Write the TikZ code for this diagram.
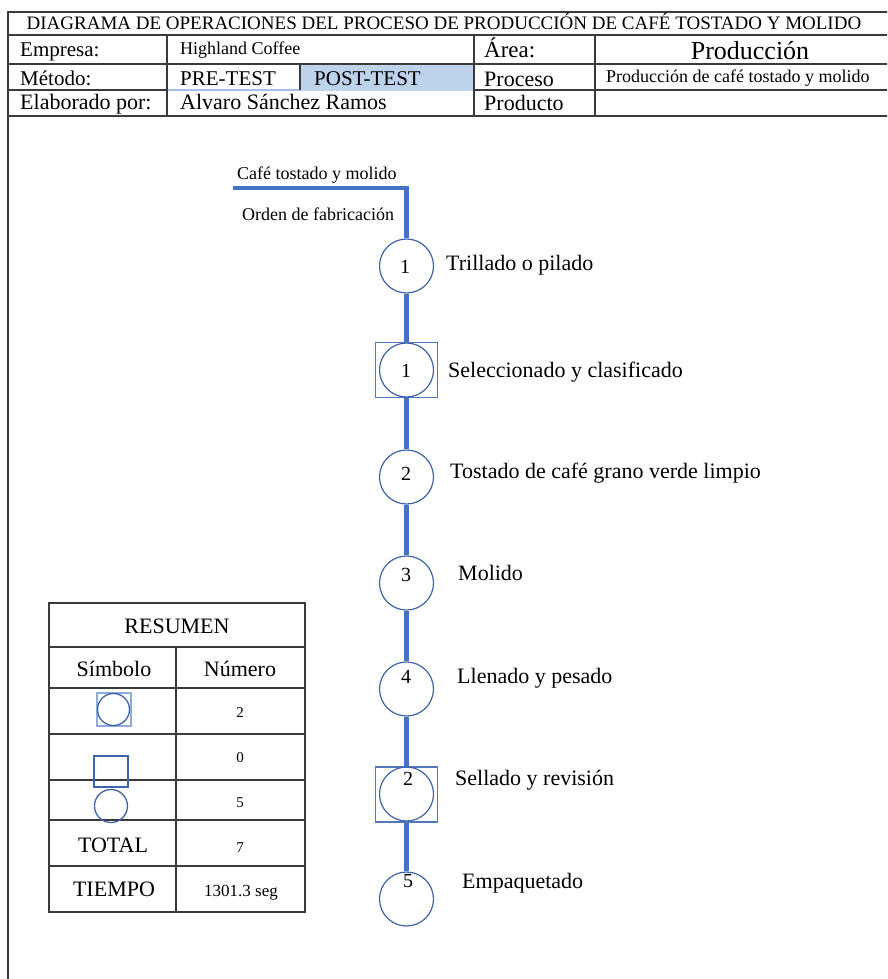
\documentclass[tikz,border=0pt]{standalone}
\usepackage{fontspec}
\setmainfont{Liberation Serif}
\definecolor{flowblue}{HTML}{4472C4}
\definecolor{shapeblue}{HTML}{3F63A8}
\definecolor{boxblue}{HTML}{5278BC}
\definecolor{paleblue}{HTML}{8FAADC}
\definecolor{cellblue}{HTML}{BDD3EC}
\definecolor{gridgray}{HTML}{3A3A3A}
\newcommand\setfs[1]{\fontsize{#1}{#1}\selectfont}
\tikzset{
  tbl/.style={draw=gridgray, line width=1.3pt},
  flow/.style={draw=flowblue, line width=4.3pt, line join=miter},
  opc/.style={circle, draw=shapeblue, line width=1.2pt, minimum size=54pt, inner sep=0pt},
  insp/.style={rectangle, draw=boxblue, line width=1.1pt, minimum width=62pt, minimum height=55pt, inner sep=0pt},
  txt/.style={inner sep=0pt, anchor=base west},
  ctxt/.style={inner sep=0pt, anchor=base},
  num/.style={inner sep=0pt, anchor=base, font=\setfs{20}},
  lbl/.style={txt, font=\setfs{22}},
}
\begin{document}
\begin{tikzpicture}[x=1pt, y=-1pt]
\useasboundingbox (0,0) rectangle (887,979);
\clip (0,0) rectangle (887,979);

% ---------- header table ----------
\fill[cellblue] (300,64) rectangle (474,91);
\draw[tbl] (8,979) -- (8,12) -- (890,12);
\draw[tbl] (8,35) -- (890,35);
\draw[tbl] (8,64) -- (890,64);
\draw[tbl] (8,90) -- (167,90);
\draw[draw=cellblue!80!flowblue, line width=1.3pt] (167,90) -- (300,90);
\draw[tbl] (474,90) -- (890,90);
\draw[tbl] (8,116) -- (890,116);
\draw[tbl] (167,35) -- (167,116);
\draw[tbl] (300,64) -- (300,90);
\draw[tbl] (474,35) -- (474,116);
\draw[tbl] (595,35) -- (595,116);

\node[ctxt, font=\setfs{19}] (title) at (444,30) {DIAGRAMA DE OPERACIONES DEL PROCESO DE PRODUCCIÓN DE CAFÉ TOSTADO Y MOLIDO};
\node[txt, font=\setfs{21}] (empL) at (20,57) {Empresa:};
\node[txt, font=\setfs{18}] (empV) at (180,55) {Highland Coffee};
\node[txt, font=\setfs{23}] (areaL) at (484,58) {Área:};
\node[ctxt, font=\setfs{26}] (areaV) at (750,60) {Producción};
\node[txt, font=\setfs{21}] (metL) at (20,86) {Método:};
\node[txt, font=\setfs{21}] (pre) at (180,86) {PRE-TEST};
\node[txt, font=\setfs{21}] (post) at (314,86) {POST-TEST};
\node[txt, font=\setfs{22}] (procL) at (484,87) {Proceso};
\node[txt, font=\setfs{18}] (procV) at (606,83) {Producción de café tostado y molido};
\node[txt, font=\setfs{22}] (elabL) at (20,110) {Elaborado por:};
\node[txt, font=\setfs{22}] (elabV) at (180,110) {Alvaro Sánchez Ramos};
\node[txt, font=\setfs{22}] (prodL) at (484,111) {Producto};

% ---------- operations chart ----------
\coordinate (inL) at (233,188);
\node[opc] (c1) at (406.5,266) {};
\node[insp] (s1) at (406.5,370) {};
\node[opc] (s1c) at (406.5,370) {};
\node[opc] (c2) at (406.5,477) {};
\node[opc] (c3) at (406.5,583) {};
\node[opc] (c4) at (406.5,689) {};
\node[insp] (s2) at (406.5,794.5) {};
\node[opc] (s2c) at (406.5,794) {};
\node[opc] (c5) at (406.5,899) {};

\draw[flow] (inL) -| (c1.north);
\draw[flow] (c1.south) -- (s1.north);
\draw[flow] (s1.south) -- (c2.north);
\draw[flow] (c2.south) -- (c3.north);
\draw[flow] (c3.south) -- (c4.north);
\draw[flow] (c4.south) -- (s2.north);
\draw[flow] (s2.south) -- (c5.north);

\node[txt, font=\setfs{18}] (inTop) at (237,179) {Café tostado y molido};
\node[txt, font=\setfs{18}] (inBot) at (242,220) {Orden de fabricación};

\node[num] (n1) at (405,273) {1};
\node[num] (n2) at (406,377) {1};
\node[num] (n3) at (406,480) {2};
\node[num] (n4) at (406,581) {3};
\node[num] (n5) at (406,683) {4};
\node[num] (n6) at (408,785) {2};
\node[num] (n7) at (408,887) {5};

\node[lbl] (l1) at (446,270) {Trillado o pilado};
\node[lbl] (l2) at (448,377) {Seleccionado y clasificado};
\node[lbl] (l3) at (450,478) {Tostado de café grano verde limpio};
\node[lbl] (l4) at (458,580) {Molido};
\node[lbl] (l5) at (457,683) {Llenado y pesado};
\node[lbl] (l6) at (455,785) {Sellado y revisión};
\node[lbl] (l7) at (462,888) {Empaquetado};

% ---------- summary table ----------
\draw[tbl] (49,603) rectangle (305,912);
\foreach \yy in {647,688,734,780,820,866} \draw[tbl] (49,\yy) -- (305,\yy);
\draw[tbl] (176,647) -- (176,912);

\node[ctxt, font=\setfs{22}] (resT) at (177,633) {RESUMEN};
\node[ctxt, font=\setfs{22}] (symH) at (114,676) {Símbolo};
\node[ctxt, font=\setfs{22}] (numH) at (240,676) {Número};

\node[rectangle, draw=paleblue, line width=2pt, minimum width=34pt, minimum height=33pt, inner sep=0pt] (sym1sq) at (113.5,709.5) {};
\node[circle, draw=shapeblue, line width=1.3pt, minimum size=32pt, inner sep=0pt] (sym1c) at (113.5,709.5) {};
\node[rectangle, draw=shapeblue, line width=1.2pt, minimum width=34pt, minimum height=31pt, inner sep=0pt] (sym2) at (111,771.5) {};
\node[circle, draw=shapeblue, line width=1.3pt, minimum size=33pt, inner sep=0pt] (sym3) at (111,806) {};

\node[ctxt, font=\setfs{15}] (cnt1) at (240,717) {2};
\node[ctxt, font=\setfs{15}] (cnt2) at (240,762) {0};
\node[ctxt, font=\setfs{15}] (cnt3) at (240,807) {5};
\node[ctxt, font=\setfs{22}] (totL) at (113,852) {TOTAL};
\node[ctxt, font=\setfs{15}] (totV) at (240,852) {7};
\node[ctxt, font=\setfs{22}] (timL) at (114,896) {TIEMPO};
\node[ctxt, font=\setfs{17}] (timV) at (241,896) {1301.3 seg};
\end{tikzpicture}
\end{document}
